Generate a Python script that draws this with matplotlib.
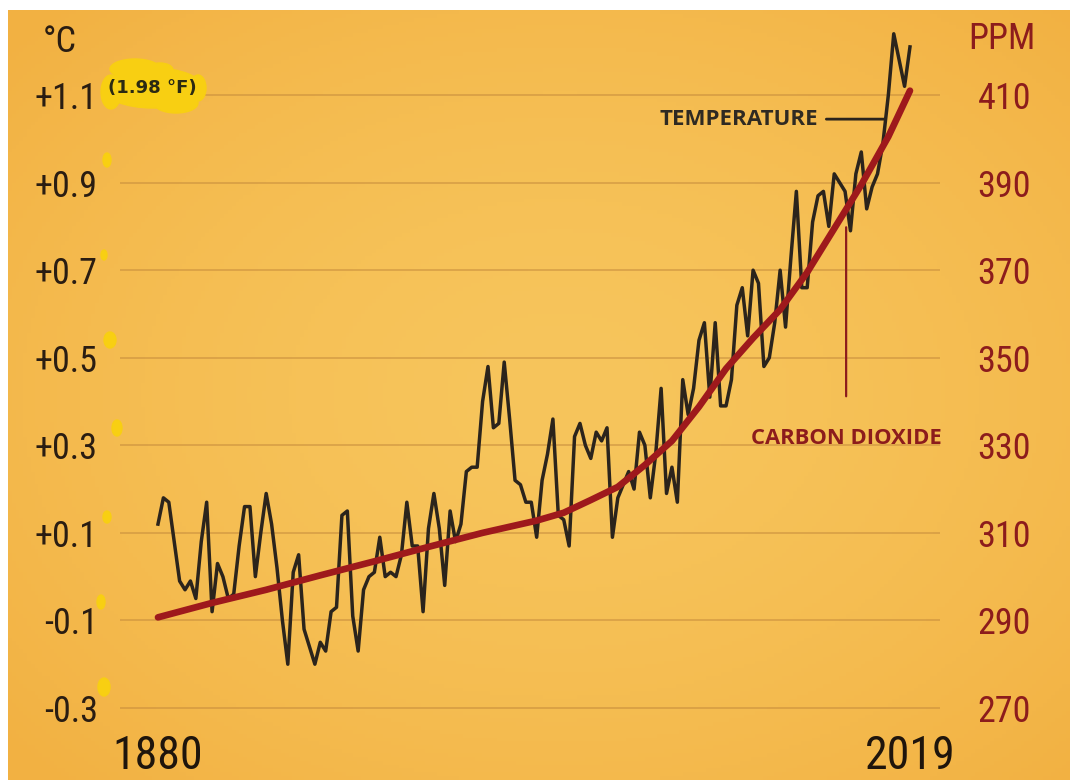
import numpy as np
import matplotlib
matplotlib.use('Agg')
import matplotlib.pyplot as plt
from matplotlib import font_manager
from matplotlib.patches import Ellipse
from matplotlib.transforms import Affine2D

# ---- data ----
years = np.arange(1880, 2020)
temp = [
    0.12, 0.18, 0.17, 0.08, -0.01, -0.03, -0.01, -0.05, 0.08, 0.17,   # 1880s
    -0.08, 0.03, 0.00, -0.05, -0.04, 0.07, 0.16, 0.16, 0.00, 0.10,    # 1890s
    0.19, 0.12, 0.02, -0.10, -0.20, 0.01, 0.05, -0.12, -0.16, -0.20,  # 1900s
    -0.15, -0.17, -0.08, -0.07, 0.14, 0.15, -0.09, -0.17, -0.03, 0.00,  # 1910s
    0.01, 0.09, 0.00, 0.01, 0.00, 0.05, 0.17, 0.07, 0.07, -0.08,      # 1920s
    0.11, 0.19, 0.11, -0.02, 0.15, 0.08, 0.12, 0.24, 0.25, 0.25,      # 1930s
    0.40, 0.48, 0.34, 0.35, 0.49, 0.36, 0.22, 0.21, 0.17, 0.17,       # 1940s
    0.09, 0.22, 0.28, 0.36, 0.14, 0.13, 0.07, 0.32, 0.35, 0.30,       # 1950s
    0.27, 0.33, 0.31, 0.34, 0.09, 0.18, 0.21, 0.24, 0.20, 0.33,       # 1960s
    0.30, 0.18, 0.28, 0.43, 0.19, 0.25, 0.17, 0.45, 0.37, 0.43,       # 1970s
    0.54, 0.58, 0.41, 0.58, 0.39, 0.39, 0.45, 0.62, 0.66, 0.55,       # 1980s
    0.70, 0.67, 0.48, 0.50, 0.58, 0.70, 0.57, 0.73, 0.88, 0.66,       # 1990s
    0.66, 0.81, 0.87, 0.88, 0.80, 0.92, 0.90, 0.88, 0.79, 0.92,       # 2000s
    0.97, 0.84, 0.89, 0.92, 0.99, 1.10, 1.24, 1.18, 1.12, 1.21,       # 2010s
]
co2_years = [1880, 1890, 1900, 1910, 1920, 1930, 1940, 1950, 1955, 1960, 1965,
             1970, 1975, 1980, 1985, 1990, 1995, 2000, 2005, 2010, 2015, 2019]
co2_ppm = [290.7, 294.0, 297.0, 300.3, 303.5, 306.8, 310.0, 312.8, 314.6, 317.5, 320.5,
           325.5, 331.0, 338.8, 347.5, 354.5, 361.0, 369.5, 379.5, 389.5, 400.5, 411.0]

c_ticks = [-0.3, -0.1, 0.1, 0.3, 0.5, 0.7, 0.9, 1.1]
c_labels = ['-0.3', '-0.1', '+0.1', '+0.3', '+0.5', '+0.7', '+0.9', '+1.1']
ppm_ticks = [270, 290, 310, 330, 350, 370, 390, 410]
year_ticks = [1880, 2019]

# ---- fonts ----
names = {f.name for f in font_manager.fontManager.ttflist}
narrow = next((n for n in ['Roboto Condensed', 'Liberation Sans Narrow',
                           'Open Sans Condensed'] if n in names), 'DejaVu Sans')
bold_font = 'Open Sans' if 'Open Sans' in names else 'DejaVu Sans'
NF = dict(fontfamily=narrow, fontstretch='condensed')

dark = '#2a1d12'
red = '#9e191c'
label_red = '#8c1c1c'

W, H = 1070, 780
fig = plt.figure(figsize=(W / 100, H / 100), dpi=100)
fig.patch.set_facecolor('white')
px = Affine2D().scale(1, -1).translate(0, H)   # pixel coords, origin top-left

# paper background
bg = fig.add_axes([8 / W, 0, 1 - 8 / W, 770 / H])
gy, gx = np.mgrid[0:1:200j, 0:1:280j]
r = np.clip(np.sqrt(((gx - 0.52) / 0.7) ** 2 + ((gy - 0.5) / 0.7) ** 2), 0, 1)
c_mid = np.array([247, 197, 92]) / 255
c_edge = np.array([242, 177, 66]) / 255
bg.imshow(c_mid + (c_edge - c_mid) * (r[..., None] ** 1.6), aspect='auto', extent=[0, 1, 0, 1])
bg.axis('off')

# main axes
ax = fig.add_axes([120 / W, 1 - 734.25 / H, 820 / W, 726.75 / H])
ax.set_facecolor('none')
ax.set_xlim(1872.98, 2024.55)
ax.set_ylim(-0.36, 1.30)
ax2 = ax.twinx()
ax2.set_ylim(300 + 100 * -0.36, 300 + 100 * 1.30)
for a in (ax, ax2):
    for s in a.spines.values():
        s.set_visible(False)

ax.set_yticks(c_ticks, c_labels, fontsize=26, color=dark, **NF)
ax.set_xticks(year_ticks, [str(y) for y in year_ticks], fontsize=33, color='#1f150c', **NF)
ax2.set_yticks(ppm_ticks, [str(p) for p in ppm_ticks], fontsize=26, color=label_red, **NF)
ax.tick_params(axis='y', length=0, pad=16)
ax.tick_params(axis='x', length=0, pad=0)
ax2.tick_params(axis='y', length=0, pad=27)
ax.grid(axis='y', color='#c48a3c', lw=1.2, alpha=0.6)
ax.set_axisbelow(True)

ax.plot(years, temp, color='#2b241c', lw=2.5, solid_joinstyle='round', zorder=2)
ax2.plot(co2_years, co2_ppm, color=red, lw=4.8, solid_capstyle='round', zorder=3)

ax.annotate('TEMPERATURE', xy=(2014.4, 1.045), xytext=(2002.0, 1.045),
            ha='right', va='center', fontsize=16, fontweight='bold', family=bold_font,
            color='#2f2a22',
            arrowprops=dict(arrowstyle='-', color='#2b241c', lw=2.0, shrinkA=4, shrinkB=0))
ax2.annotate('CARBON DIOXIDE', xy=(2007.2, 379.8), xytext=(2007.2, 331.5),
             ha='center', va='center', fontsize=15.8, fontweight='bold', family=bold_font,
             color=label_red,
             arrowprops=dict(arrowstyle='-', color=label_red, lw=1.6, shrinkA=21, shrinkB=0))

# unit labels
fig.text(60 / W, 1 - 42 / H, '°C', ha='center', va='center', fontsize=26, color=dark, **NF)
fig.text(1002 / W, 1 - 39 / H, 'PPM', ha='center', va='center', fontsize=26, color=label_red, **NF)

# yellow highlighter marks
yellow = '#f8cf12'
for cx, cy, w, h in [(153, 88, 100, 40), (135, 69, 50, 20), (176, 103, 44, 20),
                     (111, 92, 20, 34), (198, 88, 16, 26), (160, 70, 26, 14)]:
    fig.patches.append(Ellipse((cx, cy), w, h, color=yellow, transform=px, zorder=1))
for cx, cy, w, h in [(107, 160, 8, 14), (104, 255, 6, 10), (110, 340, 12, 16),
                     (117, 428, 10, 16), (107, 517, 8, 12), (101, 602, 8, 14), (104, 687, 12, 18)]:
    fig.patches.append(Ellipse((cx, cy), w, h, color=yellow, transform=px, zorder=1))
fig.text(152 / W, 1 - 88 / H, '(1.98 °F)', ha='center', va='center', fontsize=13,
         fontweight='bold', family='DejaVu Sans', color='#2b2a12', zorder=5)

fig.savefig('out.png', dpi=100)
